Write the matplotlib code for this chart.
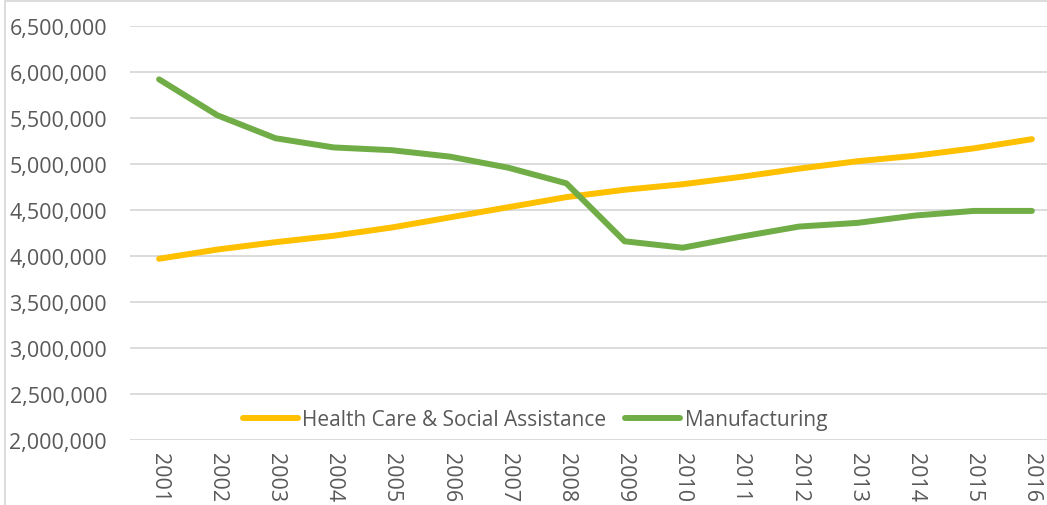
import matplotlib
matplotlib.use("Agg")
import matplotlib.pyplot as plt
from matplotlib.ticker import FuncFormatter
from matplotlib.patches import Rectangle

years = ["2001", "2002", "2003", "2004", "2005", "2006", "2007", "2008",
         "2009", "2010", "2011", "2012", "2013", "2014", "2015", "2016"]
health = [3970000, 4070000, 4150000, 4220000, 4310000, 4420000, 4530000, 4640000,
          4720000, 4780000, 4860000, 4950000, 5030000, 5090000, 5170000, 5270000]
manuf = [5920000, 5530000, 5280000, 5180000, 5150000, 5080000, 4960000, 4790000,
         4160000, 4090000, 4210000, 4320000, 4360000, 4440000, 4490000, 4490000]
series_names = ["Health Care & Social Assistance", "Manufacturing"]

plt.rcParams['font.family'] = ['Open Sans', 'DejaVu Sans']
W, H = 1047, 506
fig = plt.figure(figsize=(W / 100, H / 100), dpi=100)
ax = fig.add_axes([130 / W, 1 - 441 / H, (W - 130) / W, (441 - 27) / H])

x = list(range(len(years)))
ax.plot(x, health, color="#FFC000", lw=4.3, solid_capstyle="round", label=series_names[0], zorder=3)
ax.plot(x, manuf, color="#70AD47", lw=4.3, solid_capstyle="round", label=series_names[1], zorder=3)

ax.set_ylim(2000000, 6500000)
ax.set_yticks(range(2000000, 6500001, 500000))
ax.yaxis.set_major_formatter(FuncFormatter(lambda v, p: f"{int(v):,}"))
ax.set_xlim(-0.5, 15.26)
ax.set_xticks(x)
ax.set_xticklabels(years, rotation=270)
ax.grid(axis="y", color="#D9D9D9", lw=1.3)
ax.set_axisbelow(True)
for s in ax.spines.values():
    s.set_visible(False)
ax.tick_params(axis="both", length=0, labelsize=15.5, labelcolor="#595959")
ax.tick_params(axis="y", pad=16.5)
ax.tick_params(axis="x", pad=9)

leg = fig.legend(loc="center", bbox_to_anchor=(535 / W, 1 - 421 / H), ncol=2,
                 frameon=False, fontsize=15, handlelength=2.65, handletextpad=0.2,
                 columnspacing=0.9, labelcolor="#595959")

fig.patches.append(Rectangle((5 / W, -0.1), 1.2, 1 - 2 / H + 0.1, transform=fig.transFigure,
                             fill=False, edgecolor="#D9D9D9", lw=1.3, zorder=0))

fig.savefig("out.png", dpi=100)
